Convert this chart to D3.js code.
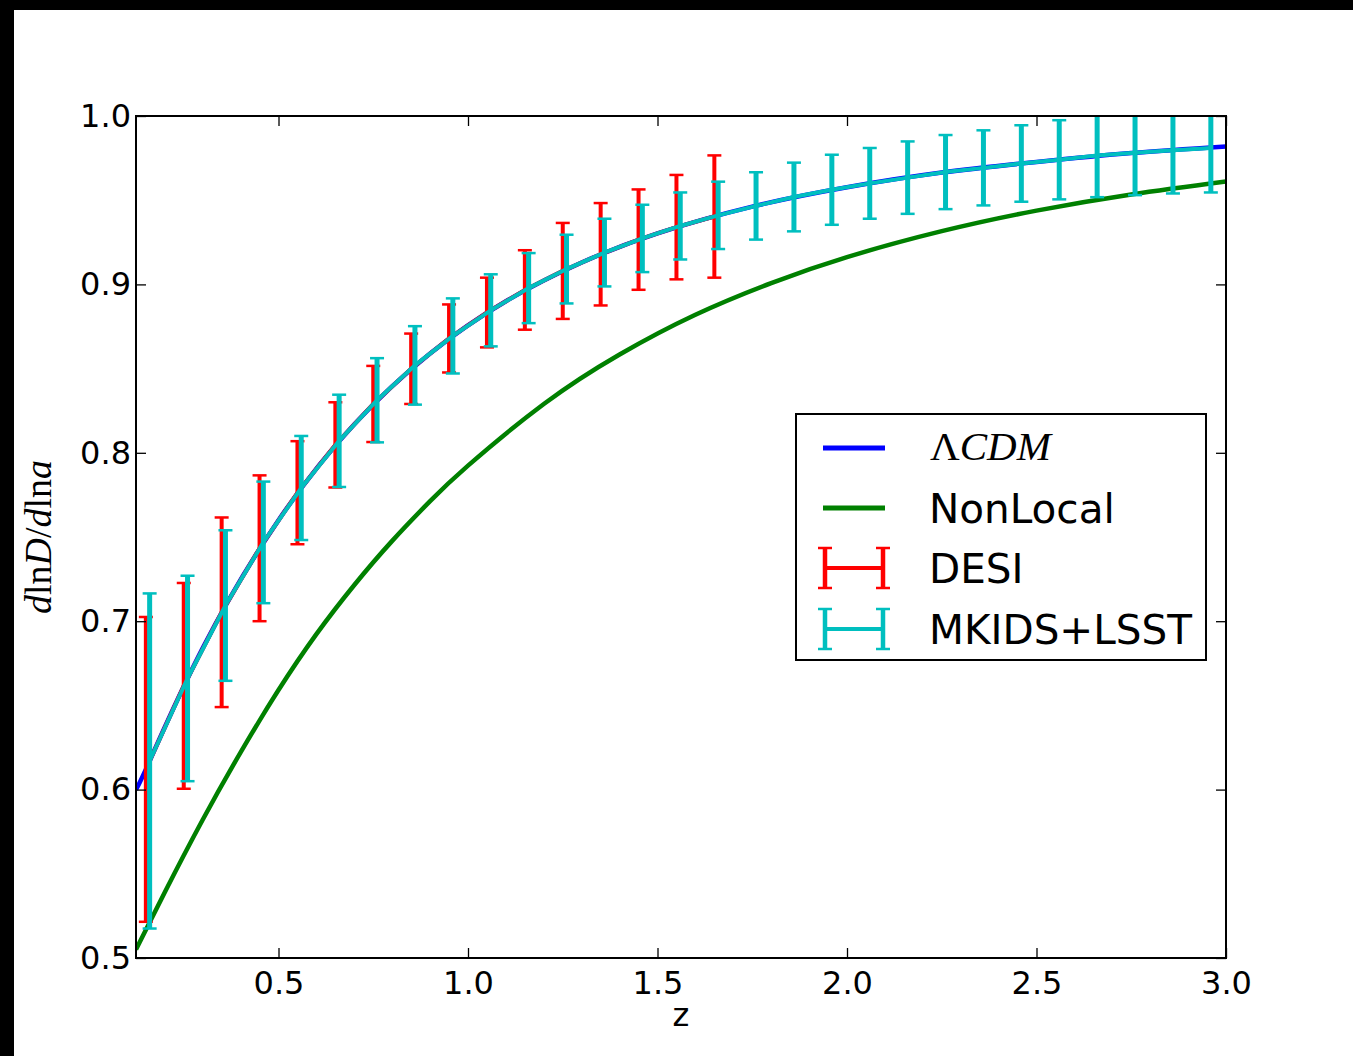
<!DOCTYPE html>
<html>
<head>
<meta charset="utf-8">
<script src="https://cdn.jsdelivr.net/npm/d3@7"></script>
<style>
  body { margin: 0; background: #fff; }
  svg { display: block; }
</style>
</head>
<body>
<svg id="chart" width="1353" height="1056"></svg>
<script>
// Growth rate f = dlnD/dlna against redshift z

// LambdaCDM growth rate
const lcdmZ = [0.124, 0.16, 0.3, 0.5, 0.7, 0.9, 1.1, 1.3, 1.5, 1.75, 2.0, 2.25, 2.5, 2.75, 3.0];
const lcdmF = [0.600, 0.617, 0.684, 0.760, 0.817, 0.859, 0.890, 0.913, 0.9303, 0.9462, 0.9577, 0.9664, 0.9727, 0.9780, 0.9819];

// Non-local gravity growth rate
const nonlocalZ = [0.124, 0.2, 0.3, 0.4, 0.5, 0.6, 0.7, 0.8, 0.9, 1.0, 1.2, 1.4, 1.6, 1.8, 2.0, 2.25, 2.5, 2.75, 3.0];
const nonlocalF = [0.505, 0.5391, 0.5821, 0.6221, 0.6591, 0.6923, 0.7215, 0.7477, 0.7713, 0.7924, 0.8290, 0.8584, 0.8820, 0.9008, 0.9162, 0.9316, 0.9438, 0.9534, 0.9611];

// DESI forecast: redshift, fiducial f, 1-sigma error
const desiZ = [0.15, 0.25, 0.35, 0.45, 0.55, 0.65, 0.75, 0.85, 0.95, 1.05, 1.15, 1.25, 1.35, 1.45, 1.55, 1.65];
const desiF = [0.612, 0.6616, 0.7053, 0.7433, 0.7763, 0.8047, 0.8290, 0.8499, 0.8679, 0.8833, 0.8967, 0.9080, 0.9179, 0.9266, 0.9340, 0.9403];
const desiErr = [0.0905, 0.0611, 0.0563, 0.0433, 0.0306, 0.0253, 0.0226, 0.0209, 0.0202, 0.0207, 0.0236, 0.0285, 0.0304, 0.0298, 0.0310, 0.0363];

// MKIDS+LSST forecast: redshift, fiducial f, 1-sigma error
const mkidsZ = [0.16, 0.26, 0.36, 0.46, 0.56, 0.66, 0.76, 0.86, 0.96, 1.06, 1.16, 1.26, 1.36, 1.46, 1.56, 1.66, 1.76, 1.86, 1.96, 2.06, 2.16, 2.26, 2.36, 2.46, 2.56, 2.66, 2.76, 2.86, 2.96];
const mkidsF = [0.617, 0.666, 0.7093, 0.7468, 0.7791, 0.8071, 0.8312, 0.8519, 0.8694, 0.8846, 0.8978, 0.9091, 0.9189, 0.9273, 0.9347, 0.9410, 0.9466, 0.9519, 0.9562, 0.9600, 0.9634, 0.9667, 0.9692, 0.9718, 0.9740, 0.9765, 0.9782, 0.9797, 0.9810];
const mkidsErr = [0.0995, 0.0610, 0.0447, 0.0361, 0.0309, 0.0274, 0.0250, 0.0233, 0.0223, 0.0214, 0.0208, 0.0204, 0.0201, 0.0200, 0.0199, 0.0200, 0.0200, 0.0204, 0.0208, 0.0210, 0.0215, 0.0220, 0.0223, 0.0227, 0.0235, 0.0247, 0.0252, 0.0257, 0.0264];

// Axis ticks
const xTicks = [0.5, 1.0, 1.5, 2.0, 2.5, 3.0];
const yTicks = [0.5, 0.6, 0.7, 0.8, 0.9, 1.0];
const xLimits = [0.124, 3.0];
const yLimits = [0.5, 1.0];

const W = 1353, H = 1056;
const box = { left: 136, right: 1226, top: 116, bottom: 958 };
const SANS = "'DejaVu Sans', sans-serif";
const SERIF = "'Liberation Serif', 'DejaVu Serif', serif";
const colors = { lcdm: "#0000ff", nonlocal: "#008000", desi: "#ff0000", mkids: "#00bfbf" };

const svg = d3.select("#chart");
svg.append("rect").attr("width", W).attr("height", H).attr("fill", "#fff");
// dark frame bands along the top and left edges
svg.append("rect").attr("x", 0).attr("y", 0).attr("width", W).attr("height", 10).attr("fill", "#000");
svg.append("rect").attr("x", 0).attr("y", 0).attr("width", 14).attr("height", H).attr("fill", "#000");

const x = d3.scaleLinear().domain(xLimits).range([box.left, box.right]);
const y = d3.scaleLinear().domain(yLimits).range([box.bottom, box.top]);

svg.append("clipPath").attr("id", "plotClip")
  .append("rect")
  .attr("x", box.left).attr("y", box.top)
  .attr("width", box.right - box.left).attr("height", box.bottom - box.top);

const plot = svg.append("g").attr("clip-path", "url(#plotClip)");

const smooth = d3.line().x(d => x(d[0])).y(d => y(d[1])).curve(d3.curveNatural);
const straight = d3.line().x(d => x(d[0])).y(d => y(d[1]));

// model curves
plot.append("path")
  .attr("d", smooth(d3.zip(lcdmZ, lcdmF)))
  .attr("fill", "none").attr("stroke", colors.lcdm).attr("stroke-width", 4.5);
plot.append("path")
  .attr("d", smooth(d3.zip(nonlocalZ, nonlocalF)))
  .attr("fill", "none").attr("stroke", colors.nonlocal).attr("stroke-width", 4.5);

// error bar series
function errorSeries(zs, fs, errs, color, barWidth) {
  const g = plot.append("g");
  g.append("path")
    .attr("d", straight(d3.zip(zs, fs)))
    .attr("fill", "none").attr("stroke", color).attr("stroke-width", 4);
  const rows = d3.zip(zs, fs, errs);
  g.selectAll("line.bar").data(rows).join("line")
    .attr("class", "bar")
    .attr("x1", d => x(d[0])).attr("x2", d => x(d[0]))
    .attr("y1", d => y(d[1] - d[2])).attr("y2", d => y(d[1] + d[2]))
    .attr("stroke", color).attr("stroke-width", barWidth);
  const caps = rows.flatMap(d => [[d[0], d[1] - d[2]], [d[0], d[1] + d[2]]]);
  g.selectAll("line.cap").data(caps).join("line")
    .attr("class", "cap")
    .attr("x1", d => x(d[0]) - 7).attr("x2", d => x(d[0]) + 7)
    .attr("y1", d => y(d[1])).attr("y2", d => y(d[1]))
    .attr("stroke", color).attr("stroke-width", 2.5);
}
errorSeries(desiZ, desiF, desiErr, colors.desi, 4);
errorSeries(mkidsZ, mkidsF, mkidsErr, colors.mkids, 5);

// axes: ticks point inward on all four sides
const fmt = d3.format(".1f");
function styleAxis(g) {
  g.select(".domain").remove();
  g.selectAll(".tick line").attr("stroke", "#000").attr("stroke-width", 1.3);
  g.selectAll(".tick text").attr("fill", "#000")
    .style("font-family", SANS).style("font-size", "32px");
}
svg.append("g").attr("transform", `translate(0,${box.bottom})`)
  .call(d3.axisBottom(x).tickValues(xTicks).tickFormat(fmt).tickSizeInner(-10).tickSizeOuter(0).tickPadding(13))
  .call(styleAxis);
svg.append("g").attr("transform", `translate(0,${box.top})`)
  .call(d3.axisTop(x).tickValues(xTicks).tickFormat("").tickSizeInner(-10).tickSizeOuter(0))
  .call(styleAxis);
svg.append("g").attr("transform", `translate(${box.left},0)`)
  .call(d3.axisLeft(y).tickValues(yTicks).tickFormat(fmt).tickSizeInner(-10).tickSizeOuter(0).tickPadding(5))
  .call(styleAxis);
svg.append("g").attr("transform", `translate(${box.right},0)`)
  .call(d3.axisRight(y).tickValues(yTicks).tickFormat("").tickSizeInner(-10).tickSizeOuter(0))
  .call(styleAxis);

// frame
svg.append("rect")
  .attr("x", box.left).attr("y", box.top)
  .attr("width", box.right - box.left).attr("height", box.bottom - box.top)
  .attr("fill", "none").attr("stroke", "#000").attr("stroke-width", 2);

// axis labels
svg.append("text")
  .attr("x", (box.left + box.right) / 2).attr("y", 1026)
  .attr("text-anchor", "middle")
  .style("font-family", SANS).style("font-size", "32px")
  .text("z");

const ylab = svg.append("text")
  .attr("transform", `translate(51,${(box.top + box.bottom) / 2}) rotate(-90)`)
  .attr("text-anchor", "middle")
  .style("font-family", SERIF).style("font-size", "38px");
[["d", true], ["ln", false], ["D", true], ["/", false], ["d", true], ["ln", false], ["a", true]]
  .forEach(([t, it]) => ylab.append("tspan").style("font-style", it ? "italic" : "normal").text(t));

// legend
const legend = svg.append("g");
legend.append("rect")
  .attr("x", 796).attr("y", 414).attr("width", 410).attr("height", 246)
  .attr("fill", "#fff").attr("stroke", "#000").attr("stroke-width", 2);

const entries = [
  { key: "lcdm", kind: "line", cy: 448 },
  { key: "nonlocal", kind: "line", cy: 508, label: "NonLocal" },
  { key: "desi", kind: "err", cy: 568, label: "DESI" },
  { key: "mkids", kind: "err", cy: 629, label: "MKIDS+LSST" }
];
entries.forEach(e => {
  const c = colors[e.key];
  if (e.kind === "line") {
    legend.append("line").attr("x1", 823).attr("x2", 885).attr("y1", e.cy).attr("y2", e.cy)
      .attr("stroke", c).attr("stroke-width", 5);
  } else {
    const ends = [825, 883];
    legend.append("line").attr("x1", ends[0]).attr("x2", ends[1]).attr("y1", e.cy).attr("y2", e.cy)
      .attr("stroke", c).attr("stroke-width", 4);
    ends.forEach(vx => {
      legend.append("line").attr("x1", vx).attr("x2", vx).attr("y1", e.cy - 20).attr("y2", e.cy + 20)
        .attr("stroke", c).attr("stroke-width", 4.5);
      [e.cy - 20, e.cy + 20].forEach(cy => {
        legend.append("line").attr("x1", vx - 7).attr("x2", vx + 7).attr("y1", cy).attr("y2", cy)
          .attr("stroke", c).attr("stroke-width", 2.5);
      });
    });
  }
  if (e.key === "lcdm") {
    const t = legend.append("text").attr("x", 930).attr("y", e.cy + 12)
      .style("font-family", SERIF).style("font-size", "41px");
    t.append("tspan").text("Λ");
    t.append("tspan").style("font-style", "italic").text("CDM");
  } else {
    legend.append("text").attr("x", 929).attr("y", e.cy + 15)
      .style("font-family", SANS).style("font-size", "40.5px")
      .text(e.label);
  }
});
</script>
</body>
</html>
